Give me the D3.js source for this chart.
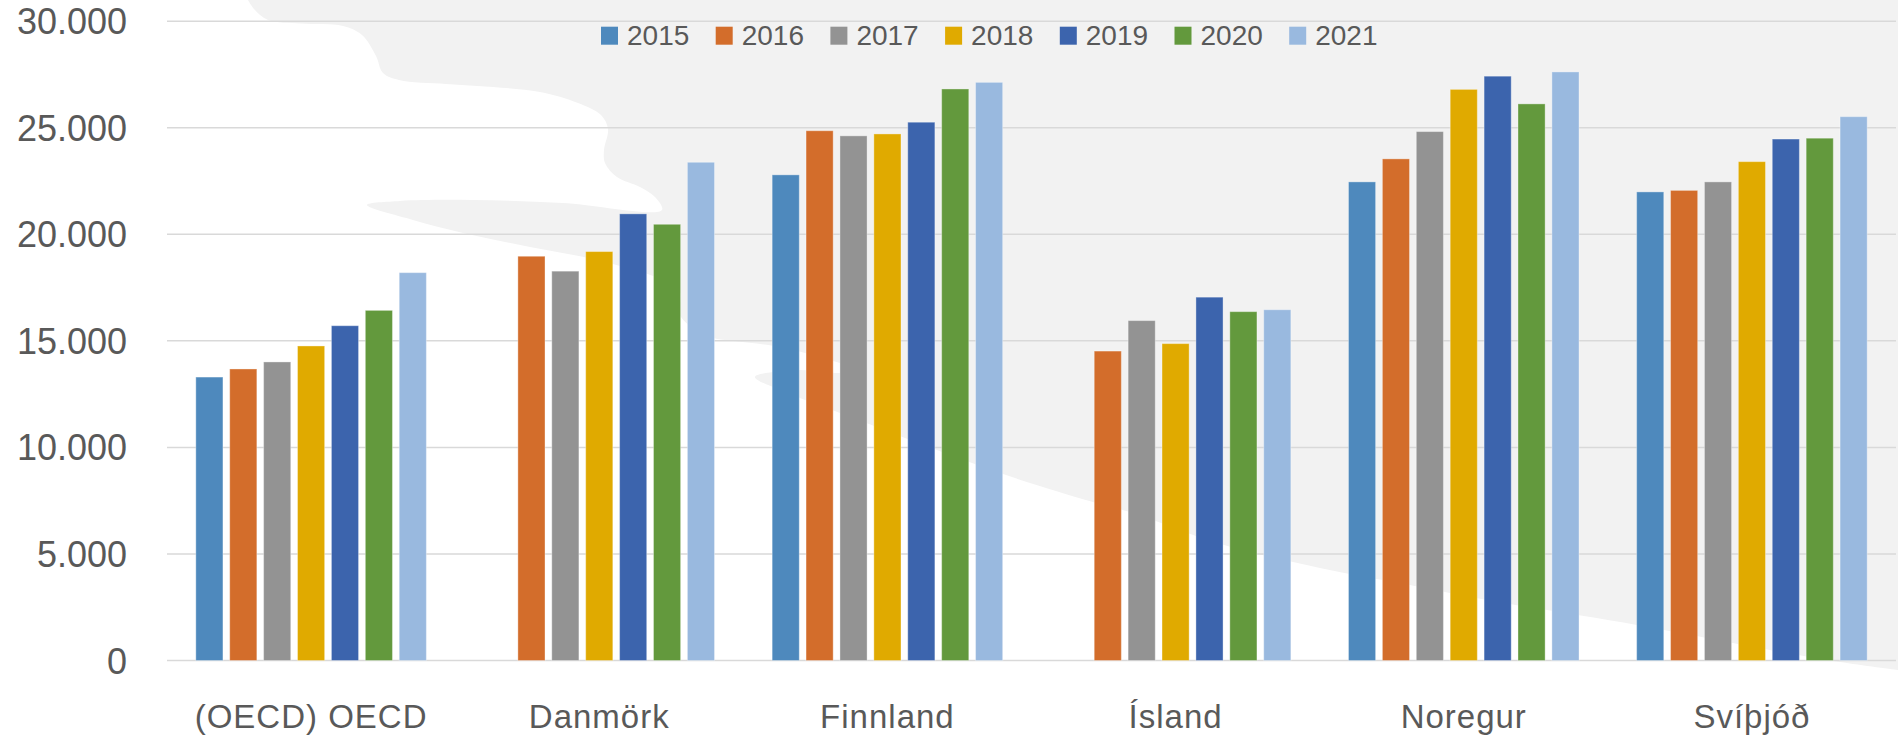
<!DOCTYPE html>
<html>
<head>
<meta charset="utf-8">
<script src="https://cdn.jsdelivr.net/npm/d3@7/dist/d3.min.js"></script>
<style>
  html, body { margin: 0; padding: 0; background: #ffffff; }
  svg { display: block; }
  text { font-family: "Liberation Sans", Arial, sans-serif; fill: #595959; }
</style>
</head>
<body>
<svg id="chart" width="1898" height="737"></svg>
<script>
// ---- data ----
const categories = ["(OECD) OECD", "Danmörk", "Finnland", "Ísland", "Noregur", "Svíþjóð"];
const years = ["2015", "2016", "2017", "2018", "2019", "2020", "2021"];
const v2015 = [13300, null, 22790, null, 22460, 21990];
const v2016 = [13680, 18970, 24860, 14520, 23540, 22060];
const v2017 = [14010, 18270, 24620, 15950, 24820, 22460];
const v2018 = [14760, 19190, 24710, 14870, 26800, 23410];
const v2019 = [15710, 20960, 25260, 17050, 27420, 24470];
const v2020 = [16430, 20470, 26820, 16370, 26120, 24510];
const v2021 = [18200, 23380, 27130, 16460, 27620, 25520];
const seriesValues = [v2015, v2016, v2017, v2018, v2019, v2020, v2021];
const yTicks = [0, 5000, 10000, 15000, 20000, 25000, 30000];
const colors = ["#4e89bd", "#d36d2b", "#939393", "#e0aa00", "#3c64ad", "#63993d", "#99b9df"];

// decorative background shape (white area over light gray page)
const bgCurve = [[248,0],[254,9],[268,20],[301,23.5],[343,26],[362,35],[376,56],[383,73],[399,80],
  [446,84],[493,87],[540,92],[578,103],[601,115],[608,129],[604,150],[605,163],[617,177],[640,187],
  [655,197],[662,210],[563,203],[473,200],[400,201],[367,205],[413,220],[463,233],[530,247],[597,260],
  [663,280],[680,292],[680,315],[700,333],[713,338],[780,347],[840,363],[862,371],[840,373],[797,370],
  [755,377],[780,390],[840,413],[1000,473],[1093,502],[1133,513],[1217,543],[1320,568],[1410,585],
  [1487,600],[1637,625],[1770,650],[1840,662],[1898,670]];

const svg = d3.select("#chart");
const W = 1898, H = 737;

svg.append("rect").attr("width", W).attr("height", H).attr("fill", "#f2f2f2");
const curve = d3.line().curve(d3.curveCatmullRom.alpha(0.5))(bgCurve);
svg.append("path")
  .attr("d", curve + `L${W},${H}L0,${H}L0,0Z`)
  .attr("fill", "#ffffff");

// ---- scales ----
const x0 = d3.scaleBand().domain(categories).range([167, 1896]).paddingInner(0.2).paddingOuter(0.1);
const x1 = d3.scaleBand().domain(years).range([0, x0.bandwidth()]).paddingInner(0.2);
const y = d3.scaleLinear().domain([0, 30000]).range([660.5, 21.2]);
const color = d3.scaleOrdinal().domain(years).range(colors);

// gridlines
svg.append("g").selectAll("line").data(yTicks).join("line")
  .attr("x1", 167).attr("x2", 1896)
  .attr("y1", d => y(d)).attr("y2", d => y(d))
  .attr("stroke", "#d9d9d9").attr("stroke-width", 1.5);

// y axis labels
svg.append("g").selectAll("text").data(yTicks).join("text")
  .attr("x", 127).attr("y", d => y(d) + 13)
  .attr("text-anchor", "end")
  .style("font-size", "36px")
  .text(d => d3.format(",")(d).replace(/,/g, "."));

// bars
const groups = svg.append("g").selectAll("g").data(categories).join("g")
  .attr("transform", d => `translate(${x0(d)},0)`);
groups.selectAll("rect")
  .data((c, ci) => years.map((yr, si) => ({ yr, v: seriesValues[si][ci] })).filter(d => d.v != null))
  .join("rect")
  .attr("x", d => x1(d.yr))
  .attr("width", x1.bandwidth())
  .attr("y", d => y(d.v))
  .attr("height", d => y(0) - y(d.v))
  .attr("fill", d => color(d.yr))
  .attr("stroke", "#ffffff").attr("stroke-opacity", 0.35).attr("stroke-width", 1);

// x labels
svg.append("g").selectAll("text").data(categories).join("text")
  .attr("x", d => x0(d) + x0.bandwidth() / 2)
  .attr("y", 727.5)
  .attr("text-anchor", "middle")
  .style("font-size", "33px")
  .style("letter-spacing", "1px")
  .text(d => d);

// legend
const leg = svg.append("g").selectAll("g").data(years).join("g")
  .attr("transform", (d, i) => `translate(${601 + i * 114.7},0)`);
leg.append("rect").attr("x", 0).attr("y", 26.7).attr("width", 17).attr("height", 18)
  .attr("fill", d => color(d));
leg.append("text").attr("x", 26).attr("y", 44.5)
  .style("font-size", "28px").text(d => d);
</script>
</body>
</html>
